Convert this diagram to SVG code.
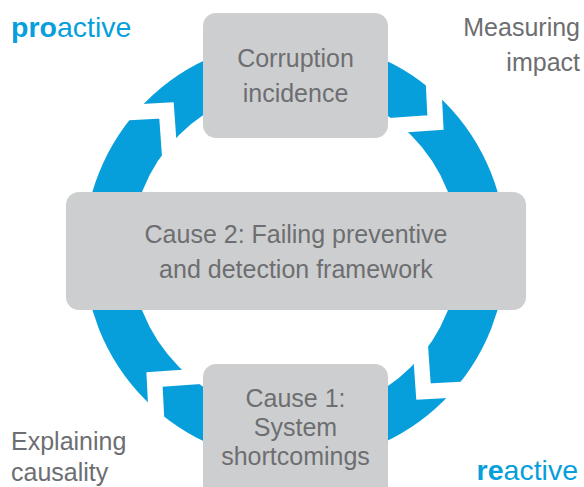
<svg xmlns="http://www.w3.org/2000/svg" xmlns:xlink="http://www.w3.org/1999/xlink" width="584" height="487" viewBox="0 0 584 487">
<style>
.box{fill:#cdcecf;}
.nt{font-family:"Liberation Sans",Arial,sans-serif;font-size:25px;fill:#6d6e71;text-anchor:middle;}
.lbl{font-family:"Liberation Sans",Arial,sans-serif;font-size:25px;fill:#6d6e71;}
.blue{font-family:"Liberation Sans",Arial,sans-serif;font-size:28.5px;fill:#079fdb;}
.ring{fill:none;stroke:#079fdb;stroke-width:47;}
.brk{fill:none;stroke:#ffffff;stroke-width:15.5;stroke-linejoin:miter;stroke-miterlimit:10;}
</style>
<defs>
<path id="brk" class="brk" d="M110,113.4 L166.5,110.5 L170,160"/>
</defs>
<rect width="584" height="487" fill="#ffffff"/>
<g id="connectors">
<circle class="ring" cx="295" cy="251" r="187.5"/>
<use xlink:href="#brk"/>
<use xlink:href="#brk" transform="rotate(90 295 251)"/>
<use xlink:href="#brk" transform="rotate(180 295 251)"/>
<use xlink:href="#brk" transform="rotate(270 295 251)"/>
</g>
<g id="node-corruption">
<rect class="box" x="203" y="13" width="185" height="125" rx="13"/>
<text class="nt" x="295.5" y="67">Corruption</text>
<text class="nt" x="295.5" y="102">incidence</text>
</g>
<g id="node-cause2">
<rect class="box" x="66" y="192" width="460" height="118" rx="13"/>
<text class="nt" x="296" y="243">Cause 2: Failing preventive</text>
<text class="nt" x="296" y="278">and detection framework</text>
</g>
<g id="node-cause1">
<rect class="box" x="203" y="364" width="185" height="140" rx="13"/>
<text class="nt" x="295.5" y="407">Cause 1:</text>
<text class="nt" x="295.5" y="436">System</text>
<text class="nt" x="295.5" y="465">shortcomings</text>
</g>
<g id="label-proactive">
<text class="blue" x="11" y="37"><tspan font-weight="bold">pro</tspan>active</text>
</g>
<g id="label-measuring">
<text class="lbl" x="580" y="36" text-anchor="end">Measuring</text>
<text class="lbl" x="580" y="71" text-anchor="end">impact</text>
</g>
<g id="label-explaining">
<text class="lbl" x="11" y="450">Explaining</text>
<text class="lbl" x="11" y="481">causality</text>
</g>
<g id="label-reactive">
<text class="blue" x="578" y="480" text-anchor="end"><tspan font-weight="bold">re</tspan>active</text>
</g>
</svg>
